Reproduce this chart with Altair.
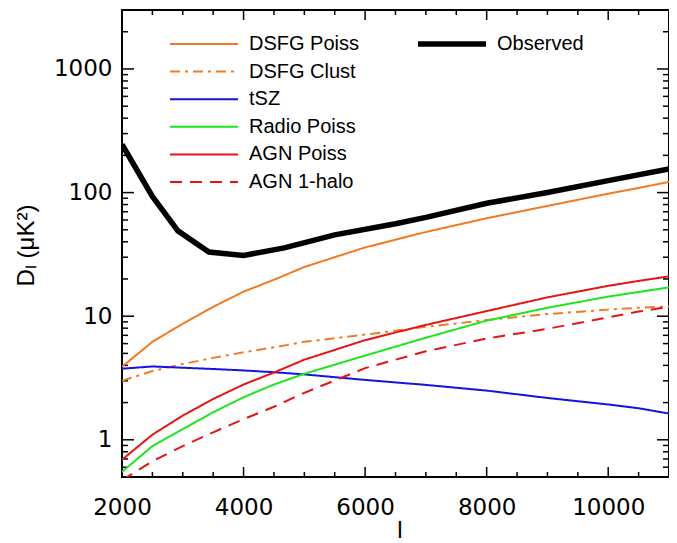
import altair as alt
import pandas as pd

# ---- data ----
ell = [2000, 2500, 3000, 3500, 4000, 4500, 5000, 6000, 7000, 8000, 9000, 10000, 10500, 11000]
dsfg_poiss = [3.9, 6.2, 8.7, 11.9, 15.8, 19.7, 25.0, 36.0, 48.0, 62.0, 78.0, 98.0, 109.0, 122.0]
dsfg_clust = [3.0, 3.6, 4.1, 4.6, 5.1, 5.6, 6.2, 7.1, 8.2, 9.3, 10.4, 11.3, 11.7, 12.0]
tsz = [3.76, 3.92, 3.83, 3.74, 3.64, 3.52, 3.38, 3.05, 2.78, 2.5, 2.18, 1.93, 1.8, 1.63]
radio_poiss = [0.55, 0.89, 1.22, 1.67, 2.21, 2.8, 3.42, 4.8, 6.7, 9.2, 11.7, 14.4, 15.7, 17.1]
agn_poiss = [0.69, 1.1, 1.57, 2.14, 2.8, 3.5, 4.45, 6.4, 8.5, 11.0, 14.2, 17.6, 19.3, 21.0]
agn_1halo = [0.47, 0.67, 0.89, 1.15, 1.47, 1.85, 2.4, 3.8, 5.2, 6.6, 7.9, 9.8, 10.9, 11.9]

obs_ell = [2000, 2500, 2920, 3430, 4000, 4670, 5500, 6500, 7000, 8000, 9000, 10000, 11000]
observed = [245, 93, 49, 33, 31, 35.7, 45.5, 56, 63, 82, 100, 125, 155]

series_names = ["DSFG Poiss", "DSFG Clust", "tSZ", "Radio Poiss", "AGN Poiss", "AGN 1-halo"]
series_vals = [dsfg_poiss, dsfg_clust, tsz, radio_poiss, agn_poiss, agn_1halo]
series_colors = ["#f27a20", "#f27a20", "#1414e0", "#1ee61e", "#e81414", "#e81414"]
series_dash = [[1, 0], [10, 5, 3, 5], [1, 0], [1, 0], [1, 0], [12, 8]]

x_major = [2000, 4000, 6000, 8000, 10000]
x_minor = [2500, 3000, 3500, 4500, 5000, 5500, 6500, 7000, 7500, 8500, 9000, 9500, 10500]
y_major = [1, 10, 100, 1000]
y_minor = [0.6, 0.7, 0.8, 0.9, 2, 3, 4, 5, 6, 7, 8, 9, 20, 30, 40, 50, 60, 70, 80, 90,
           200, 300, 400, 500, 600, 700, 800, 900, 2000]

# ---- tables ----
rows = []
for name, vals in zip(series_names, series_vals):
    for l, v in zip(ell, vals):
        rows.append({"series": name, "l": l, "v": v})
models = pd.DataFrame(rows)
obs = pd.DataFrame({"name": "Observed", "l": obs_ell, "v": observed})

W, H = 547, 467
FONT = "Liberation Sans"
TICKFONT = "DejaVu Sans"

xs = alt.Scale(domain=[2000, 11000], nice=False, zero=False)
ys = alt.Scale(type="log", domain=[0.5, 3000], nice=False)
xaxis = alt.Axis(values=x_major, format="d", ticks=False, tickSize=0, domain=False, grid=False,
                 labelFlush=False, labelPadding=19, labelFontSize=23, labelFont=TICKFONT,
                 title="l", titleFontSize=24, titleX=W / 2 + 4, titleY=60,
                 titleBaseline="alphabetic", titleAlign="center")
yaxis = alt.Axis(values=y_major, format="d", ticks=False, tickSize=0, domain=False, grid=False,
                 labelFlush=False, labelPadding=10, labelFontSize=23, labelFont=TICKFONT,
                 title="Dₗ (μK²)", titleFontSize=24, titleX=-89, titleY=235, titleAngle=-90,
                 titleBaseline="alphabetic", titleAlign="center")

X = alt.X("l:Q", scale=xs, axis=xaxis)
Y = alt.Y("v:Q", scale=ys, axis=yaxis)

LINE_SYMBOL = "M0,0H34"
model_legend = alt.Legend(orient="none", legendX=38, legendY=24, title=None,
                          symbolType=LINE_SYMBOL, symbolSize=16, symbolStrokeWidth=2,
                          labelFontSize=20, labelFont=FONT, labelOffset=69, rowPadding=7.6,
                          padding=0, labelLimit=0)
obs_legend = alt.Legend(orient="none", legendX=286, legendY=24, title=None,
                        symbolType=LINE_SYMBOL, symbolSize=16, symbolStrokeWidth=5.5,
                        labelFontSize=20, labelFont=FONT, labelOffset=69, padding=0,
                        labelLimit=0)

model_lines = alt.Chart(models).mark_line(strokeWidth=2, clip=True).encode(
    x=X, y=Y,
    color=alt.Color("series:N", scale=alt.Scale(domain=series_names, range=series_colors),
                    legend=model_legend, sort=series_names),
    strokeDash=alt.StrokeDash("series:N", scale=alt.Scale(domain=series_names, range=series_dash),
                              legend=model_legend, sort=series_names),
    order=alt.Order("l:Q"),
)

obs_line = alt.Chart(obs).mark_line(strokeWidth=5.5, clip=True).encode(
    x=X, y=Y,
    color=alt.Color("name:N", scale=alt.Scale(domain=["Observed"], range=["black"]),
                    legend=obs_legend),
    order=alt.Order("l:Q"),
)

xmaj = pd.DataFrame({"l": x_major})
xmin = pd.DataFrame({"l": x_minor})
ymaj = pd.DataFrame({"v": y_major})
ymin = pd.DataFrame({"v": y_minor})

def xticks(df, length):
    bot = alt.Chart(df).mark_rule(color="black", strokeWidth=1.5).encode(
        x=X, y=alt.value(H), y2=alt.value(H - length))
    top = alt.Chart(df).mark_rule(color="black", strokeWidth=1.5).encode(
        x=X, y=alt.value(0), y2=alt.value(length))
    return [bot, top]

def yticks(df, length):
    left = alt.Chart(df).mark_rule(color="black", strokeWidth=1.5).encode(
        y=Y, x=alt.value(0), x2=alt.value(length))
    right = alt.Chart(df).mark_rule(color="black", strokeWidth=1.5).encode(
        y=Y, x=alt.value(W), x2=alt.value(W - length))
    return [left, right]

tick_layers = xticks(xmaj, 10) + xticks(xmin, 5) + yticks(ymaj, 12) + yticks(ymin, 6)

chart = alt.layer(*tick_layers, model_lines, obs_line).resolve_scale(
    color="independent", strokeDash="independent"
).properties(
    width=W, height=H,
    autosize=alt.AutoSizeParams(type="none"),
    padding={"left": 114, "top": 2, "right": 0, "bottom": 66},
).configure_view(
    stroke="black", strokeWidth=2
).configure_axis(
    labelFont=FONT, titleFont=FONT, labelColor="black", titleColor="black",
    titleFontWeight="normal"
).configure_legend(
    labelColor="black"
)

chart.save("out.html", embed_options={"renderer": "svg", "actions": False})
